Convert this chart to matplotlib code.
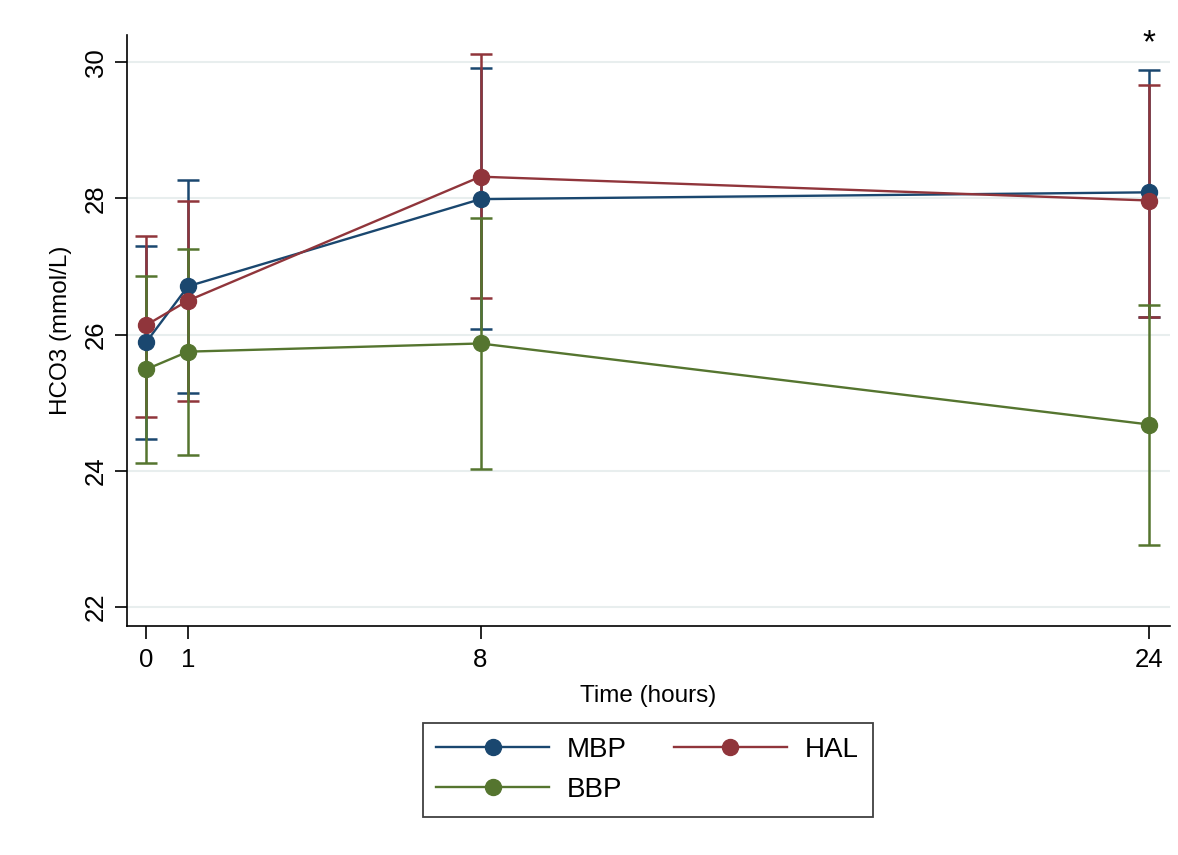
import matplotlib
matplotlib.use("Agg")
import matplotlib.pyplot as plt

plt.rcParams['font.family'] = ['Liberation Sans', 'DejaVu Sans']

hours = [0, 1, 8, 24]

mbp_mean = [25.89, 26.71, 27.99, 28.09]
mbp_low = [24.46, 25.14, 26.09, 26.26]
mbp_high = [27.30, 28.27, 29.91, 29.88]

hal_mean = [26.14, 26.50, 28.32, 27.97]
hal_low = [24.79, 25.03, 26.54, 26.26]
hal_high = [27.45, 27.96, 30.12, 29.67]

bbp_mean = [25.49, 25.75, 25.87, 24.68]
bbp_low = [24.11, 24.23, 24.02, 22.91]
bbp_high = [26.86, 27.26, 27.71, 26.43]

series = [
    ("MBP", mbp_mean, mbp_low, mbp_high, "#1a476f"),
    ("HAL", hal_mean, hal_low, hal_high, "#90353b"),
    ("BBP", bbp_mean, bbp_low, bbp_high, "#55752f"),
]

fig = plt.figure(figsize=(11.78, 8.55), dpi=100)
ax = fig.add_axes([0.1078, 0.2678, 0.8854, 0.6912])

# caps first, then the connected lines on top
for name, mean, low, high, col in series:
    yerr = [[m - l for m, l in zip(mean, low)], [h - m for m, h in zip(mean, high)]]
    ax.errorbar(hours, mean, yerr=yerr, fmt="none", ecolor=col, elinewidth=1.8,
                capsize=8, capthick=1.8, zorder=2)

handles = {}
for name, mean, low, high, col in series:
    line, = ax.plot(hours, mean, color=col, lw=1.7, marker="o", ms=11.5,
                    markerfacecolor=col, markeredgecolor=col, zorder=3)
    handles[name] = line

ax.text(24, 30.27, "*", ha="center", va="center", fontsize=24)

ax.set_xlim(-0.46, 24.5)
ax.set_ylim(21.72, 30.4)
ax.set_xticks(hours)
ax.set_yticks([22, 24, 26, 28, 30])
ax.tick_params(axis="both", labelsize=18.5, length=9, width=1.2, direction="out")
ax.tick_params(axis="x", pad=7)
ax.tick_params(axis="y", pad=5)
for lab in ax.get_yticklabels():
    lab.set_rotation(90)
    lab.set_va("center")
ax.yaxis.grid(True, color="#e8eeee", lw=1.5)
ax.set_axisbelow(True)
for s in ["top", "right"]:
    ax.spines[s].set_visible(False)
for s in ["left", "bottom"]:
    ax.spines[s].set_linewidth(1.2)

ax.set_xlabel("Time (hours)", fontsize=17.5, labelpad=9)
ax.set_ylabel("HCO3 (mmol/L)", fontsize=17.5, labelpad=8)

leg = fig.legend([handles["MBP"], handles["BBP"], handles["HAL"]], ["MBP", "BBP", "HAL"],
                 loc="center", bbox_to_anchor=(0.5497, 0.0994), ncol=2, fontsize=20,
                 handlelength=4.05, columnspacing=1.7, handletextpad=0.65,
                 labelspacing=0.5, fancybox=False, framealpha=1, borderpad=0.5)
leg.get_frame().set_edgecolor("#404040")
leg.get_frame().set_linewidth(1.3)

fig.savefig("out.png", dpi=100)
